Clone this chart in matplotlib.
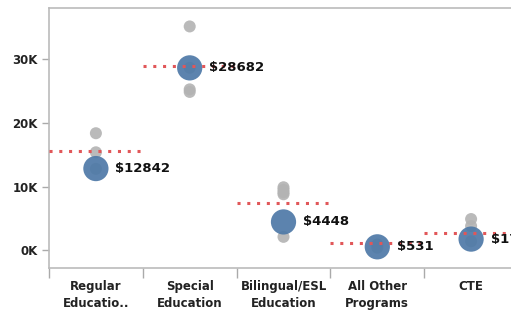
import matplotlib
matplotlib.use("Agg")
import matplotlib.pyplot as plt
from matplotlib.ticker import FuncFormatter, FixedLocator

categories = ["Regular\nEducatio..", "Special\nEducation", "Bilingual/ESL\nEducation",
              "All Other\nPrograms", "CTE"]
avg_values = [12842, 28682, 4448, 531, 1747]
ref_values = [15600, 29000, 7400, 1100, 2700]
gray_points = [
    [18400, 15400, 12800],
    [35200, 28700, 25300, 24900],
    [9900, 9500, 9100, 8800, 2100],
    [900, 400],
    [4900, 3800, 1400],
]

fig = plt.figure(figsize=(5.11, 3.10), dpi=100)
ax = fig.add_axes([49/511, 42/310, 469/511, 260/310])

for i, pts in enumerate(gray_points):
    ax.scatter([i + 0.5] * len(pts), pts, s=75, color="#b3b3b3", alpha=0.9,
               edgecolors="none", zorder=2)

for i, r in enumerate(ref_values):
    ax.plot([i, i + 1], [r, r], color="#e15759", lw=2.2, linestyle=(0, (1, 2.2)),
            zorder=4, solid_capstyle="butt")

xs = [i + 0.5 for i in range(len(categories))]
ax.scatter(xs, avg_values, s=330, color="#4e79a7", alpha=0.92, edgecolors="none", zorder=3)

for x, v in zip(xs, avg_values):
    ax.annotate(f"${v}", (x, v), xytext=(14, 0), textcoords="offset points",
                ha="left", va="center", fontsize=9.5, fontweight="bold",
                color="#111111", zorder=5)

ax.set_xlim(0, 5)
ax.set_ylim(-2800, 38100)
ax.set_yticks([0, 10000, 20000, 30000])
ax.yaxis.set_major_formatter(FuncFormatter(lambda v, p: f"{int(v/1000)}K"))

ax.xaxis.set_major_locator(FixedLocator([0, 1, 2, 3, 4, 5]))
ax.xaxis.set_minor_locator(FixedLocator(xs))
ax.set_xticklabels([""] * 6)
ax.set_xticklabels(categories, minor=True)
ax.tick_params(axis="x", which="major", length=7, color="#aaaaaa", width=1)
ax.tick_params(axis="x", which="minor", length=0, pad=8.5)
ax.tick_params(axis="y", length=5, color="#aaaaaa", width=1, pad=3)
for lbl in ax.get_xticklabels(minor=True):
    lbl.set_fontweight("bold"); lbl.set_fontsize(8.5); lbl.set_color("#222222")
    lbl.set_linespacing(1.45)
for lbl in ax.get_yticklabels():
    lbl.set_fontweight("bold"); lbl.set_fontsize(8.5); lbl.set_color("#222222")

for s in ["left", "bottom", "top", "right"]:
    ax.spines[s].set_color("#bbbbbb")
    ax.spines[s].set_linewidth(1.2)

fig.savefig("out.png", dpi=100)
